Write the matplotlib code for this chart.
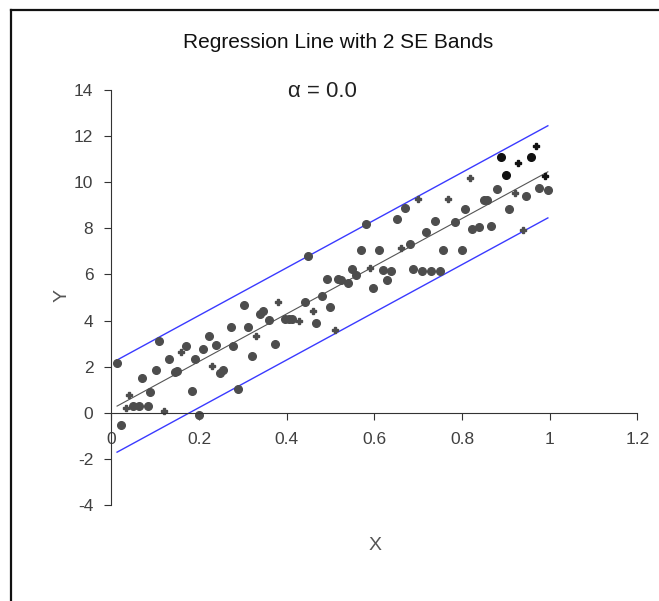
import numpy as np
import matplotlib.pyplot as plt
from matplotlib.lines import Line2D

# points
x = [0.013, 0.021, 0.033, 0.040, 0.050, 0.063, 0.083, 0.070, 0.088, 0.102,
     0.109, 0.121, 0.132, 0.145, 0.150, 0.160, 0.170, 0.185, 0.190, 0.201,
     0.210, 0.223, 0.229, 0.239, 0.249, 0.255, 0.272, 0.278, 0.289, 0.303,
     0.311, 0.320, 0.329, 0.340, 0.346, 0.359, 0.373, 0.381, 0.397, 0.405,
     0.413, 0.428, 0.442, 0.448, 0.460, 0.468, 0.480, 0.491, 0.499, 0.510,
     0.517, 0.525, 0.540, 0.550, 0.559, 0.569, 0.581, 0.590, 0.597, 0.611,
     0.619, 0.629, 0.639, 0.651, 0.662, 0.670, 0.681, 0.689, 0.700, 0.708,
     0.719, 0.730, 0.738, 0.749, 0.757, 0.768, 0.784, 0.800, 0.806, 0.819,
     0.824, 0.839, 0.850, 0.857, 0.867, 0.879, 0.888, 0.900, 0.907, 0.920,
     0.927, 0.939, 0.946, 0.958, 0.970, 0.976, 0.989, 0.996]
y = [2.17, -0.52, 0.22, 0.76, 0.29, 0.29, 0.29, 1.50, 0.89, 1.85,
     3.13, 0.06, 2.31, 1.78, 1.80, 2.63, 2.89, 0.94, 2.31, -0.12,
     2.77, 3.35, 2.02, 2.92, 1.73, 1.85, 3.71, 2.89, 1.01, 4.69,
     3.71, 2.48, 3.35, 4.30, 4.40, 4.04, 2.96, 4.81, 4.07, 4.05,
     4.07, 3.97, 4.79, 6.79, 4.43, 3.90, 5.08, 5.81, 4.59, 3.58,
     5.81, 5.75, 5.63, 6.24, 5.99, 7.08, 8.19, 6.28, 5.42, 7.05,
     6.21, 5.78, 6.14, 8.41, 7.15, 8.89, 7.34, 6.24, 9.28, 6.14,
     7.83, 6.14, 8.31, 6.14, 7.05, 9.28, 8.26, 7.05, 8.84, 10.19,
     7.98, 8.06, 9.25, 9.25, 8.09, 9.71, 11.10, 10.33, 8.84, 9.54,
     10.84, 7.92, 9.42, 11.12, 11.59, 9.75, 10.29, 9.65]
# small "+" style points
small = [2, 3, 11, 15, 22, 32, 37, 41, 44, 49, 57, 64, 68, 75, 79, 89, 90, 91, 94, 96]
# darker points in the upper right
dark = [86, 87, 90, 93, 94, 96]

se = 1.0
alpha_txt = 'α = 0.0'

x = np.array(x)
y = np.array(y)
b1, b0 = np.polyfit(x, y, 1)
xs = np.sort(x)
fit = b0 + b1 * xs

plt.rcParams['font.family'] = ['Liberation Sans', 'DejaVu Sans']
plt.rcParams['axes.unicode_minus'] = False
fig = plt.figure(figsize=(6.59, 6.01), dpi=100)
ax = fig.add_axes([0.169, 0.160, 0.798, 0.690])

ax.plot(xs, fit + 2 * se, color='#3a3aff', lw=1.0)
ax.plot(xs, fit - 2 * se, color='#3a3aff', lw=1.0)
ax.plot(xs, fit, color='#555555', lw=0.8)

for i in range(len(x)):
    c = '#111111' if i in dark else '#4d4d4d'
    if i in small:
        ax.plot(x[i], y[i], marker='P', ms=4, color=c, mec=c, ls='none')
    else:
        ax.plot(x[i], y[i], marker='o', ms=5.5, color=c, mec=c, ls='none')

ax.set_xlim(0, 1.2)
ax.set_ylim(-4, 14)
ax.set_xticks([0, 0.2, 0.4, 0.6, 0.8, 1.0, 1.2])
ax.set_xticklabels(['0', '0.2', '0.4', '0.6', '0.8', '1', '1.2'])
ax.set_yticks(range(-4, 15, 2))
ax.spines['right'].set_visible(False)
ax.spines['top'].set_visible(False)
ax.spines['left'].set_position(('data', 0))
ax.spines['bottom'].set_position(('data', 0))
ax.spines['left'].set_color('#333333')
ax.spines['bottom'].set_color('#333333')
ax.tick_params(axis='both', direction='out', length=5, color='#333333',
               labelsize=12.5, labelcolor='#404040')
ax.tick_params(axis='x', pad=9)
ax.tick_params(axis='y', pad=8)
ax.patch.set_alpha(0)

fig.text(0.513, 0.930, 'Regression Line with 2 SE Bands', ha='center', va='center',
         fontsize=15, color='#111111')
fig.text(0.489, 0.848, alpha_txt, ha='center', va='center', fontsize=16, color='#222222')
fig.text(0.569, 0.093, 'X', ha='center', va='center', fontsize=14, color='#555555')
fig.text(0.094, 0.509, 'Y', ha='center', va='center', fontsize=14, color='#555555',
         rotation=90)

# outer frame (left and top edges)
fig.add_artist(Line2D([0.017, 0.017], [0.0, 0.984], color='#111111', lw=1.6))
fig.add_artist(Line2D([0.017, 1.0], [0.984, 0.984], color='#111111', lw=1.6))

fig.savefig('out.png', dpi=100)
